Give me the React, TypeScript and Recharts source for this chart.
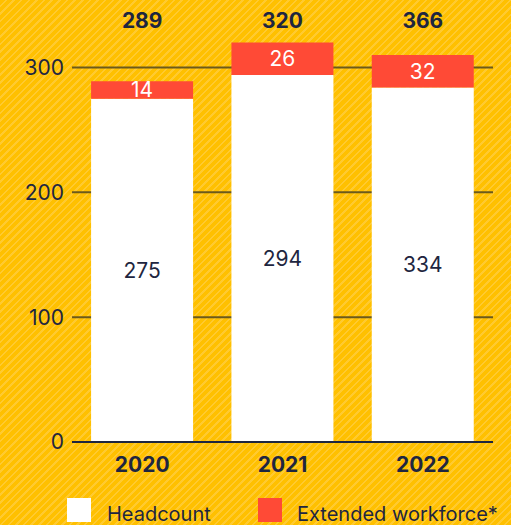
import React from 'react'
import { BarChart, Bar, XAxis, YAxis, CartesianGrid, Legend, LabelList } from 'recharts'

const years = ['2020', '2021', '2022']
// bar heights as drawn in the picture
const headcount = [275, 294, 284]
const extended = [14, 26, 26]
// numbers printed on the picture
const headcountLabels = ['275', '294', '334']
const extendedLabels = ['14', '26', '32']
const totalLabels = ['289', '320', '366']
const yTicks = [0, 100, 200, 300]
const gridValues = [100, 200, 300]

const NAVY = '#1e2640'
const RED = '#ff4a36'
const FONT = 'Inter, "Noto Sans", sans-serif'

const data = years.map((year, i) => ({
  year,
  total: totalLabels[i],
  headcount: headcount[i],
  extended: extended[i],
  headcountLabel: headcountLabels[i],
  extendedLabel: extendedLabels[i],
}))

const renderLegend = () => (
  <svg width={511} height={38} style={{ display: 'block', overflow: 'visible' }}>
    <rect x={67} y={11} width={24} height={24} fill="#ffffff" />
    <text x={107} y={34} fontSize={20} fill={NAVY} fontFamily={FONT}>
      Headcount
    </text>
    <rect x={258} y={11} width={24} height={24} fill={RED} />
    <text x={297} y={34} fontSize={20} fill={NAVY} fontFamily={FONT}>
      Extended workforce*
    </text>
  </svg>
)

export default function App() {
  return (
    <div
      style={{
        position: 'absolute',
        left: 0,
        top: 0,
        width: 511,
        height: 525,
        overflow: 'hidden',
        background:
          'repeating-linear-gradient(135deg, #ffc000 0px, #ffc000 3.6px, #ffca30 3.6px, #ffca30 5.4px)',
      }}
    >
      <BarChart
        width={511}
        height={525}
        data={data}
        margin={{ top: 0, right: 18, bottom: 0, left: 0 }}
        barCategoryGap="13.6%"
        style={{ fontFamily: FONT }}
      >
        <CartesianGrid
          vertical={false}
          horizontalValues={gridValues}
          stroke="#6b5a1c"
          strokeWidth={2}
        />
        <XAxis
          xAxisId="top"
          orientation="top"
          dataKey="total"
          height={40}
          axisLine={false}
          tickLine={false}
          tickMargin={6}
          tick={{ fill: NAVY, fontSize: 21, fontWeight: 700 }}
        />
        <XAxis
          dataKey="year"
          height={45}
          axisLine={{ stroke: NAVY, strokeWidth: 2 }}
          tickLine={false}
          tickMargin={9}
          tick={{ fill: NAVY, fontSize: 21, fontWeight: 700 }}
        />
        <YAxis
          width={72}
          domain={[0, 322]}
          ticks={yTicks}
          axisLine={false}
          tickLine={false}
          tick={{ fill: NAVY, fontSize: 21 }}
        />
        <Legend verticalAlign="bottom" height={38} content={renderLegend} />
        <Bar dataKey="headcount" stackId="a" fill="#ffffff" isAnimationActive={false}>
          <LabelList dataKey="headcountLabel" position="center" fill={NAVY} fontSize={21} />
        </Bar>
        <Bar dataKey="extended" stackId="a" fill={RED} isAnimationActive={false}>
          <LabelList dataKey="extendedLabel" position="center" fill="#ffffff" fontSize={21} />
        </Bar>
      </BarChart>
    </div>
  )
}
